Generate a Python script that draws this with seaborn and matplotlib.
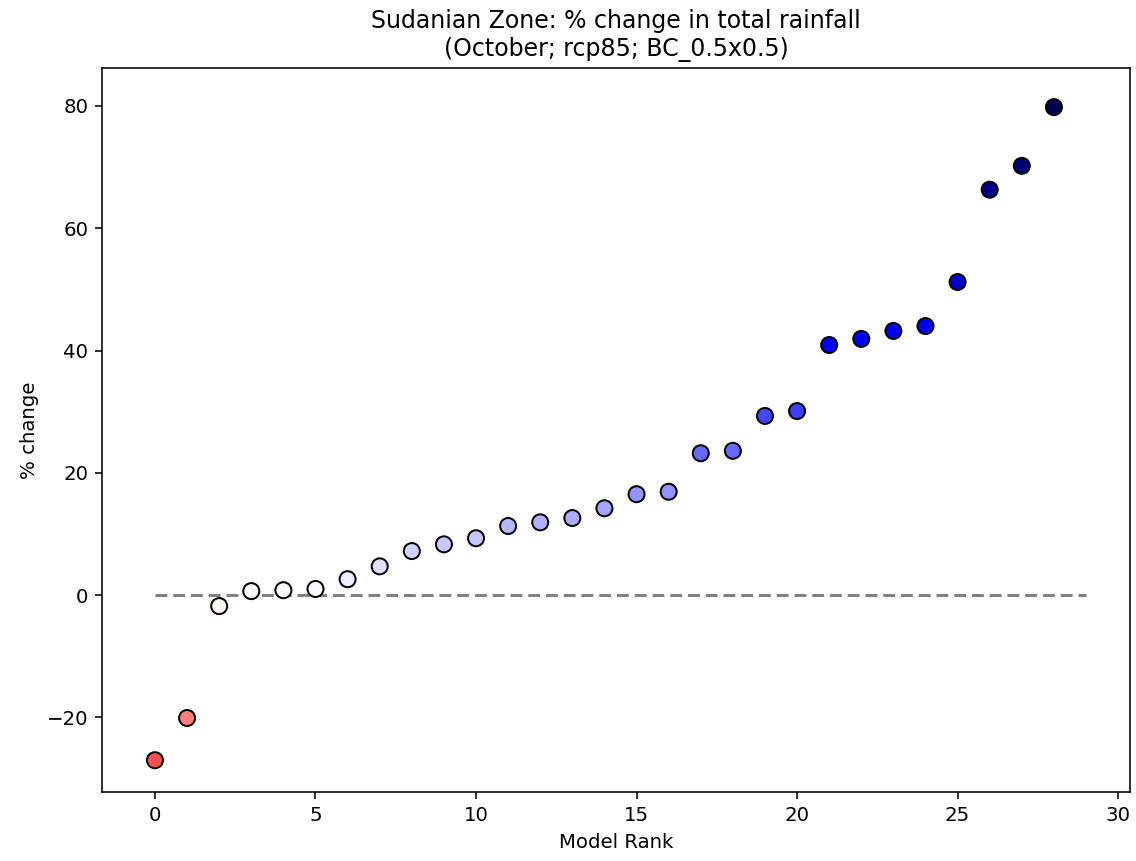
import matplotlib
matplotlib.use("Agg")
import matplotlib.pyplot as plt
import seaborn as sns
import pandas as pd
import numpy as np

rank = list(range(29))
pct_change = [-27.0, -20.1, -1.8, 0.65, 0.8, 1.0, 2.6, 4.7, 7.2, 8.3, 9.3, 11.3, 11.9, 12.6,
              14.2, 16.5, 16.9, 23.2, 23.6, 29.3, 30.1, 40.9, 41.9, 43.2, 44.0, 51.2,
              66.3, 70.2, 79.8]

title = "Sudanian Zone: % change in total rainfall\n(October; rcp85; BC_0.5x0.5)"

sns.set_style("ticks", rc={"text.color": "black", "axes.labelcolor": "black",
                           "xtick.color": "black", "ytick.color": "black",
                           "axes.edgecolor": "black"})
plt.rcParams['font.family'] = ['DejaVu Sans']

df = pd.DataFrame({"rank": rank, "pct": pct_change})

fig, ax = plt.subplots(figsize=(8, 6.0634), dpi=142)
ax.plot([0, 29], [0, 0], color="grey", linestyle="--", dashes=(4, 2), linewidth=1.5, zorder=1)
sns.scatterplot(data=df, x="rank", y="pct", hue="pct", palette="seismic_r",
                hue_norm=(-80, 80), s=66, edgecolor="black", linewidth=1.0,
                legend=False, ax=ax, zorder=3)

ax.set_xlim(-1.65, 30.37)
ax.set_ylim(-32.2, 86.2)
ax.set_xticks([0, 5, 10, 15, 20, 25, 30])
ax.set_yticks([-20, 0, 20, 40, 60, 80])
ax.set_xlabel("Model Rank", color="black")
ax.set_ylabel("% change", color="black")
ax.set_title(title, color="black")
for sp in ax.spines.values():
    sp.set_visible(True)
    sp.set_color("black")
    sp.set_linewidth(0.8)
ax.tick_params(colors="black", labelcolor="black", direction="out", length=3.5, width=0.8)

fig.subplots_adjust(left=102/1136, right=1130/1136, top=1-68/861, bottom=1-792/861)
fig.savefig("out.png", dpi=142)
